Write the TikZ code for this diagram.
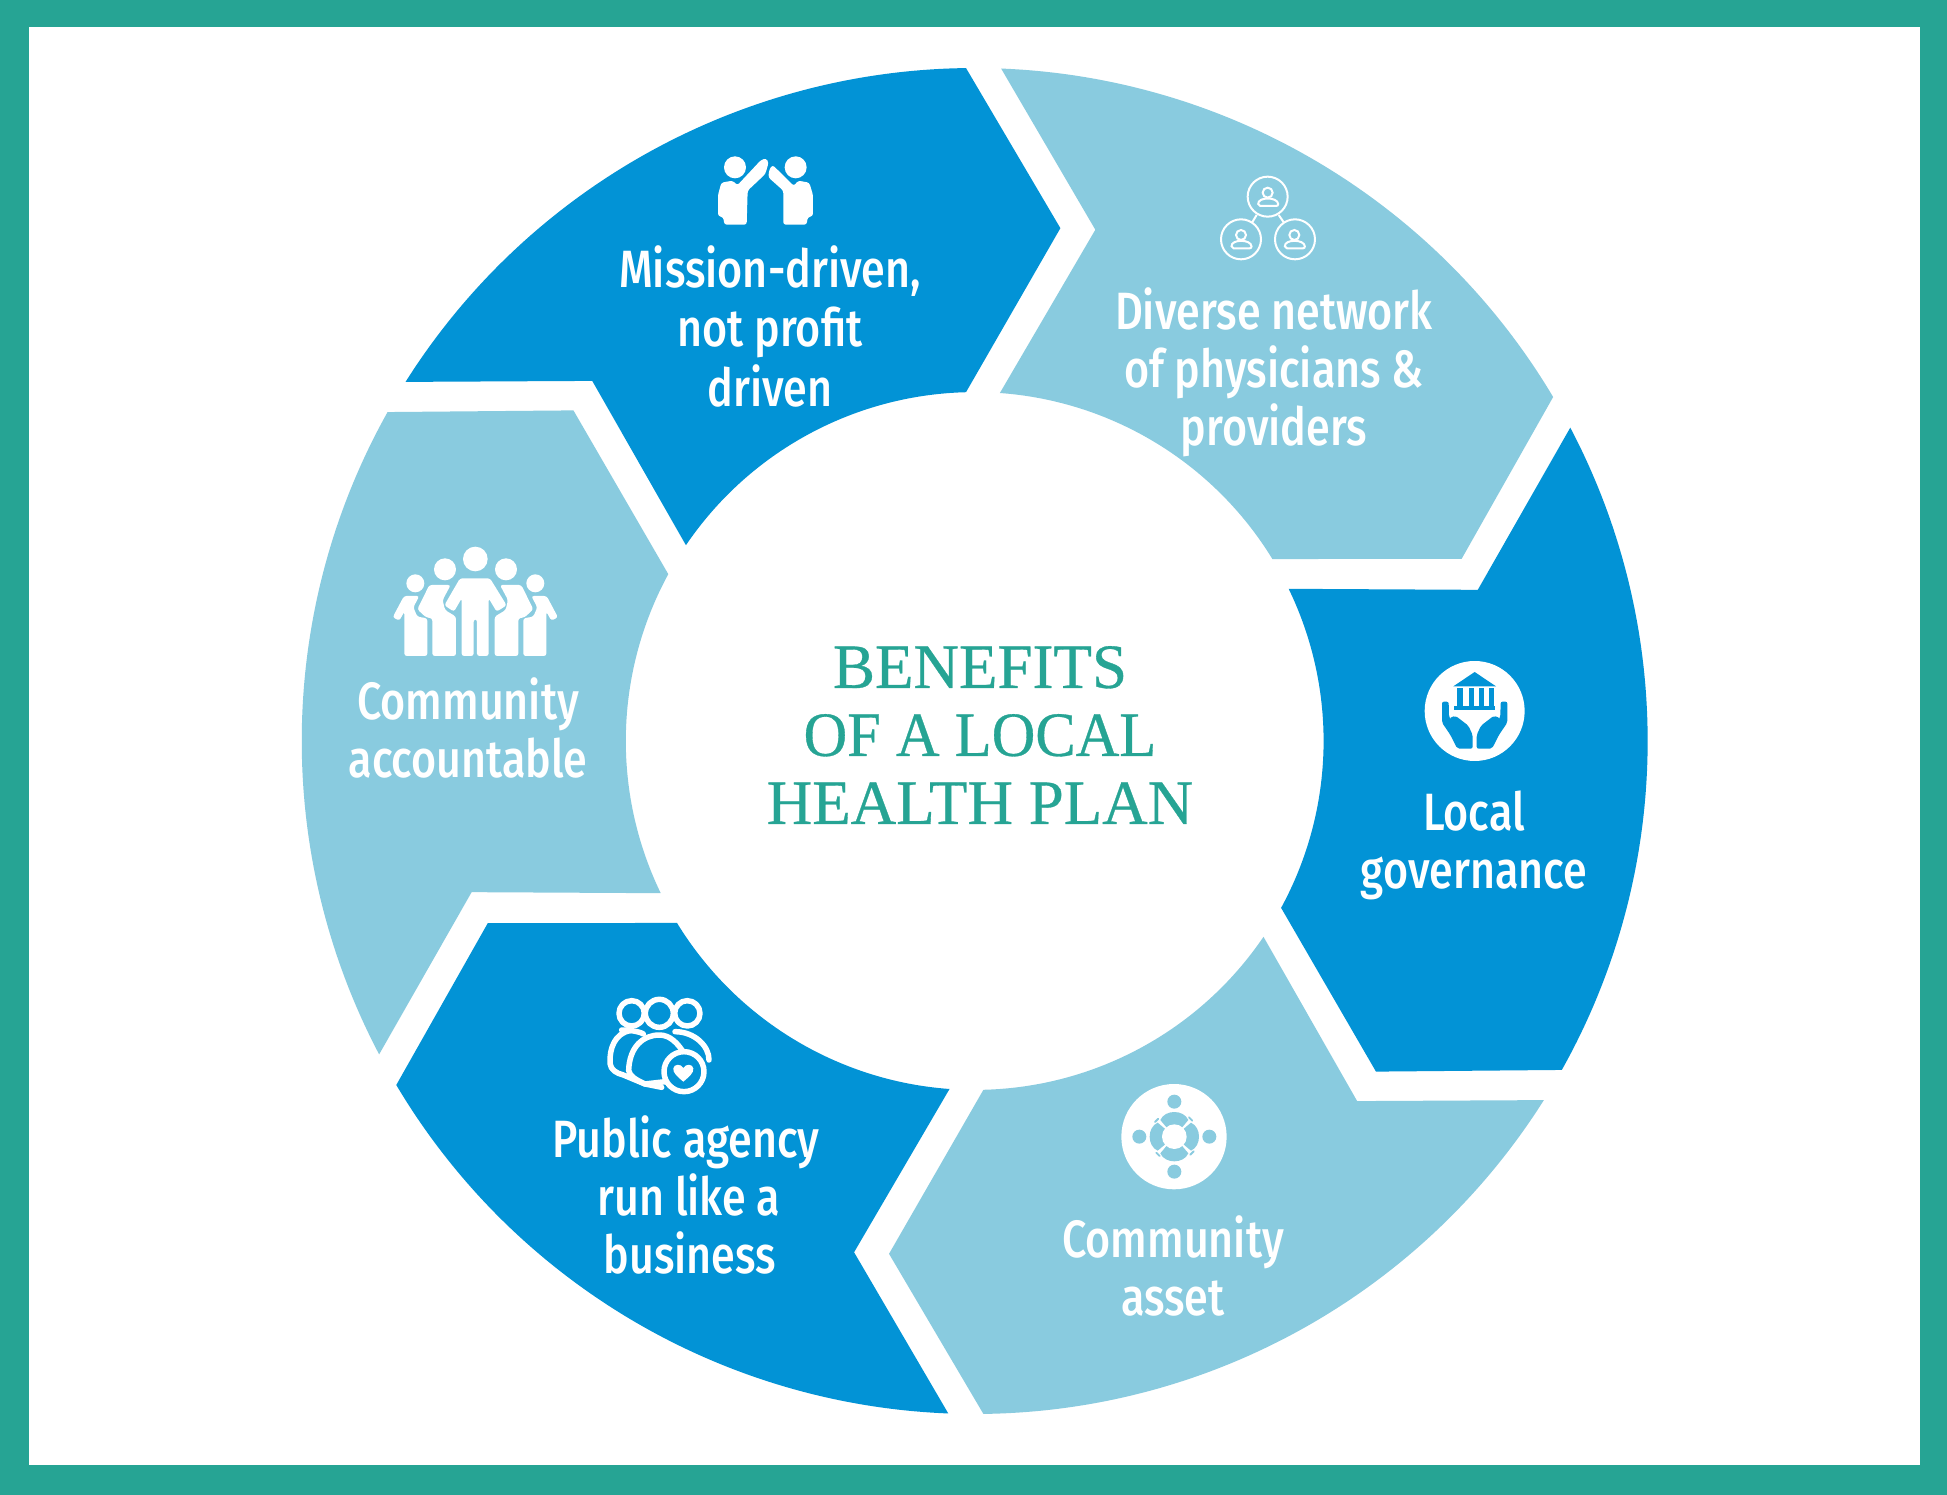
\documentclass[tikz,border=0pt]{standalone}
\usepackage{fontspec}
\newfontfamily\labfont[UprightFont=* Medium,FakeStretch=0.82]{Fira Sans}
\newfontfamily\titlefont[FakeBold=0.5]{Liberation Serif}
\definecolor{deepblue}{RGB}{2,147,214}
\definecolor{paleblue}{RGB}{137,203,223}
\definecolor{tealframe}{RGB}{38,164,148}
\tikzset{
  seglabel/.style={text=white,align=center,inner sep=0pt,font=\labfont\fontsize{52.5}{58}\selectfont},
  icon/.style={x=0.3333pt,y=-0.3333pt},
  mirror/.style={shift={(#1,0)},xscale=-1},
}
\begin{document}
\begin{tikzpicture}[x=1pt,y=1pt]
\useasboundingbox (0,0) rectangle (1947,-1495);
\fill[tealframe] (0,0) rectangle (1947,-1495);
\fill[white] (29,-27) rectangle (1920,-1465);
% ring of six chevrons
\foreach \k/\c in {0/deepblue,1/paleblue,2/deepblue,3/paleblue,4/deepblue,5/paleblue}{
  \begin{scope}[shift={(974.7,-741)},x=1.2417pt,y=1.2417pt,rotate=-60*\k]
    \fill[\c] (147.75:542) arc[start angle=147.75,end angle=90.74,radius=542]
      -- (69,413) -- (91.43:281) arc[start angle=91.43,end angle=145.86,radius=281]
      -- (-308,290) -- cycle;
  \end{scope}
}
% title
\node[text=tealframe,align=center,inner sep=0pt,font=\titlefont\fontsize{63}{68}\selectfont] (title) at (980,-735) {BENEFITS\\\scalebox{0.96}[1]{OF A LOCAL}\\HEALTH PLAN};
% labels
\node[seglabel,font=\labfont\fontsize{52.5}{59.5}\selectfont] (mission) at (770,-326) {Mission-driven,\\not profit\\driven};
\node[seglabel] (diverse) at (1274,-372) {Diverse network\\of physicians \&\\providers};
\node[seglabel] (gov) at (1474,-845.5) {Local\\governance};
\node[seglabel] (asset) at (1173,-1266) {Community\\asset};
\node[seglabel] (agency) at (686,-1195) {Public agency\\\hspace*{6pt}run like a\\\hspace*{8pt}business};
\node[seglabel] (account) at (468,-727.5) {Community\\accountable};
% icon: high five
\begin{scope}[shift={(680,-130)},icon]
  \fill[white] (165,112) circle (33) (347,112) circle (33);
  \fill[white,rounded corners=2.5pt] (114,195) -- (124,158) -- (158,152) -- (172,166) -- (243,90) -- (258,85) -- (266,97) -- (256,132) -- (203,182) -- (200,284) -- (133,284) -- (130,262) -- (114,258) -- cycle;
  \fill[white,rounded corners=2.5pt] (399,195) -- (388,158) -- (354,152) -- (342,168) -- (278,105) -- (268,118) -- (265,142) -- (310,182) -- (310,284) -- (380,284) -- (383,262) -- (399,258) -- cycle;
\end{scope}
% icon: network of people
\begin{scope}[shift={(1190,-160)},icon,draw=white,line width=2pt]
  \draw (233,110) circle (60) (153,238) circle (60) (315,238) circle (60);
  \draw (200,165) -- (186,188) (266,165) -- (282,188);
  \foreach \ox/\oy in {0/0,-80/127,80/127}{
    \begin{scope}[shift={(\ox,\oy)}]
      \draw (233,98) circle (15);
      \draw[rounded corners=2pt] (205,138) .. controls (203,110) and (263,110) .. (265,138) -- cycle;
    \end{scope}
  }
\end{scope}
% icon: hands and bank
\begin{scope}[shift={(1400,-641)},icon]
  \fill[white] (224,210) circle (150);
  \fill[deepblue] (224,93) -- (288,136) -- (160,136) -- cycle;
  \fill[deepblue] (162,195) rectangle (286,208);
  \foreach \a/\b in {170/190,206/222,236/252,266/282}{\fill[deepblue] (\a,140) rectangle (\b,196);}
  \fill[deepblue,rounded corners=2pt] (126,182) -- (146,182) -- (147,228) -- (158,246) -- (190,266) -- (180,272) -- (150,252) -- (147,232) -- (166,224) -- (205,254) -- (218,282) -- (218,323) -- (172,323) -- (150,280) -- (126,245) -- cycle;
  \begin{scope}[mirror=448]
  \fill[deepblue,rounded corners=2pt] (126,182) -- (146,182) -- (147,228) -- (158,246) -- (190,266) -- (180,272) -- (150,252) -- (147,232) -- (166,224) -- (205,254) -- (218,282) -- (218,323) -- (172,323) -- (150,280) -- (126,245) -- cycle;
  \end{scope}
\end{scope}
% icon: circle of people
\begin{scope}[shift={(1105,-1070)},icon]
  \fill[white] (207,200) circle (158);
  \foreach \r in {0,90,180,270}{
    \begin{scope}[rotate around={\r:(208,200)}]
      \fill[paleblue] (208,95) circle (21);
      \fill[paleblue] (166,150) .. controls (180,118) and (236,118) .. (250,150) -- (208,200) -- cycle;
      \draw[paleblue,line width=1.8pt,line cap=round] (160,146) -- (150,156);
    \end{scope}
  }
  \fill[white] (208,200) circle (37);
\end{scope}
% icon: group with heart
\begin{scope}[shift={(590,-980)},icon,line width=5.5pt,draw=white,line cap=round,line join=round]
  \draw (125,100) circle (38) (292,100) circle (38);
  \draw (120,152) .. controls (75,160) and (58,205) .. (60,250) .. controls (62,270) and (80,280) .. (100,285) -- (165,312) -- (215,322);
  \draw (255,155) .. controls (315,155) and (358,200) .. (357,240);
  \draw (95,150) .. controls (120,150) and (150,155) .. (160,162);
  \filldraw[fill=deepblue] (116,272) .. controls (118,200) and (160,165) .. (208,165) .. controls (240,165) and (265,190) .. (285,225) -- (270,300) -- (165,312) .. controls (140,300) and (120,290) .. (116,272) -- cycle;
  \filldraw[fill=deepblue] (208,100) circle (42);
  \filldraw[fill=deepblue] (282,275) circle (60);
  \fill[white] (280,305) .. controls (262,290) and (248,278) .. (250,265) .. controls (252,252) and (272,250) .. (280,264) .. controls (288,250) and (308,252) .. (310,265) .. controls (312,278) and (298,290) .. (280,305) -- cycle;
\end{scope}
% icon: community
\begin{scope}[shift={(380,-530)},icon]
  \fill[white] (286,87) circle (37) (195,118) circle (33) (378,118) circle (33) (106,160) circle (27) (466,160) circle (27);
  \fill[white,rounded corners=2.5pt] (240,145) -- (330,145) -- (380,226) -- (350,245) -- (326,205) -- (326,378) -- (291,378) -- (291,268) -- (281,268) -- (281,378) -- (245,378) -- (245,205) -- (222,245) -- (193,226) -- cycle;
  \foreach \m in {0,1}{
    \begin{scope}[shift={(\m*572,0)},xscale=1-2*\m]
      \fill[white,rounded corners=2.5pt] (148,165) -- (212,165) -- (188,210) -- (195,240) -- (228,260) -- (228,378) -- (157,378) -- (157,265) -- (138,262) -- (112,238) -- cycle;
      \fill[white,rounded corners=2.5pt] (72,198) -- (118,198) -- (100,232) -- (112,260) -- (142,265) -- (142,378) -- (73,378) -- (73,245) -- (58,272) -- (38,262) -- cycle;
    \end{scope}
  }
\end{scope}
\end{tikzpicture}
\end{document}
